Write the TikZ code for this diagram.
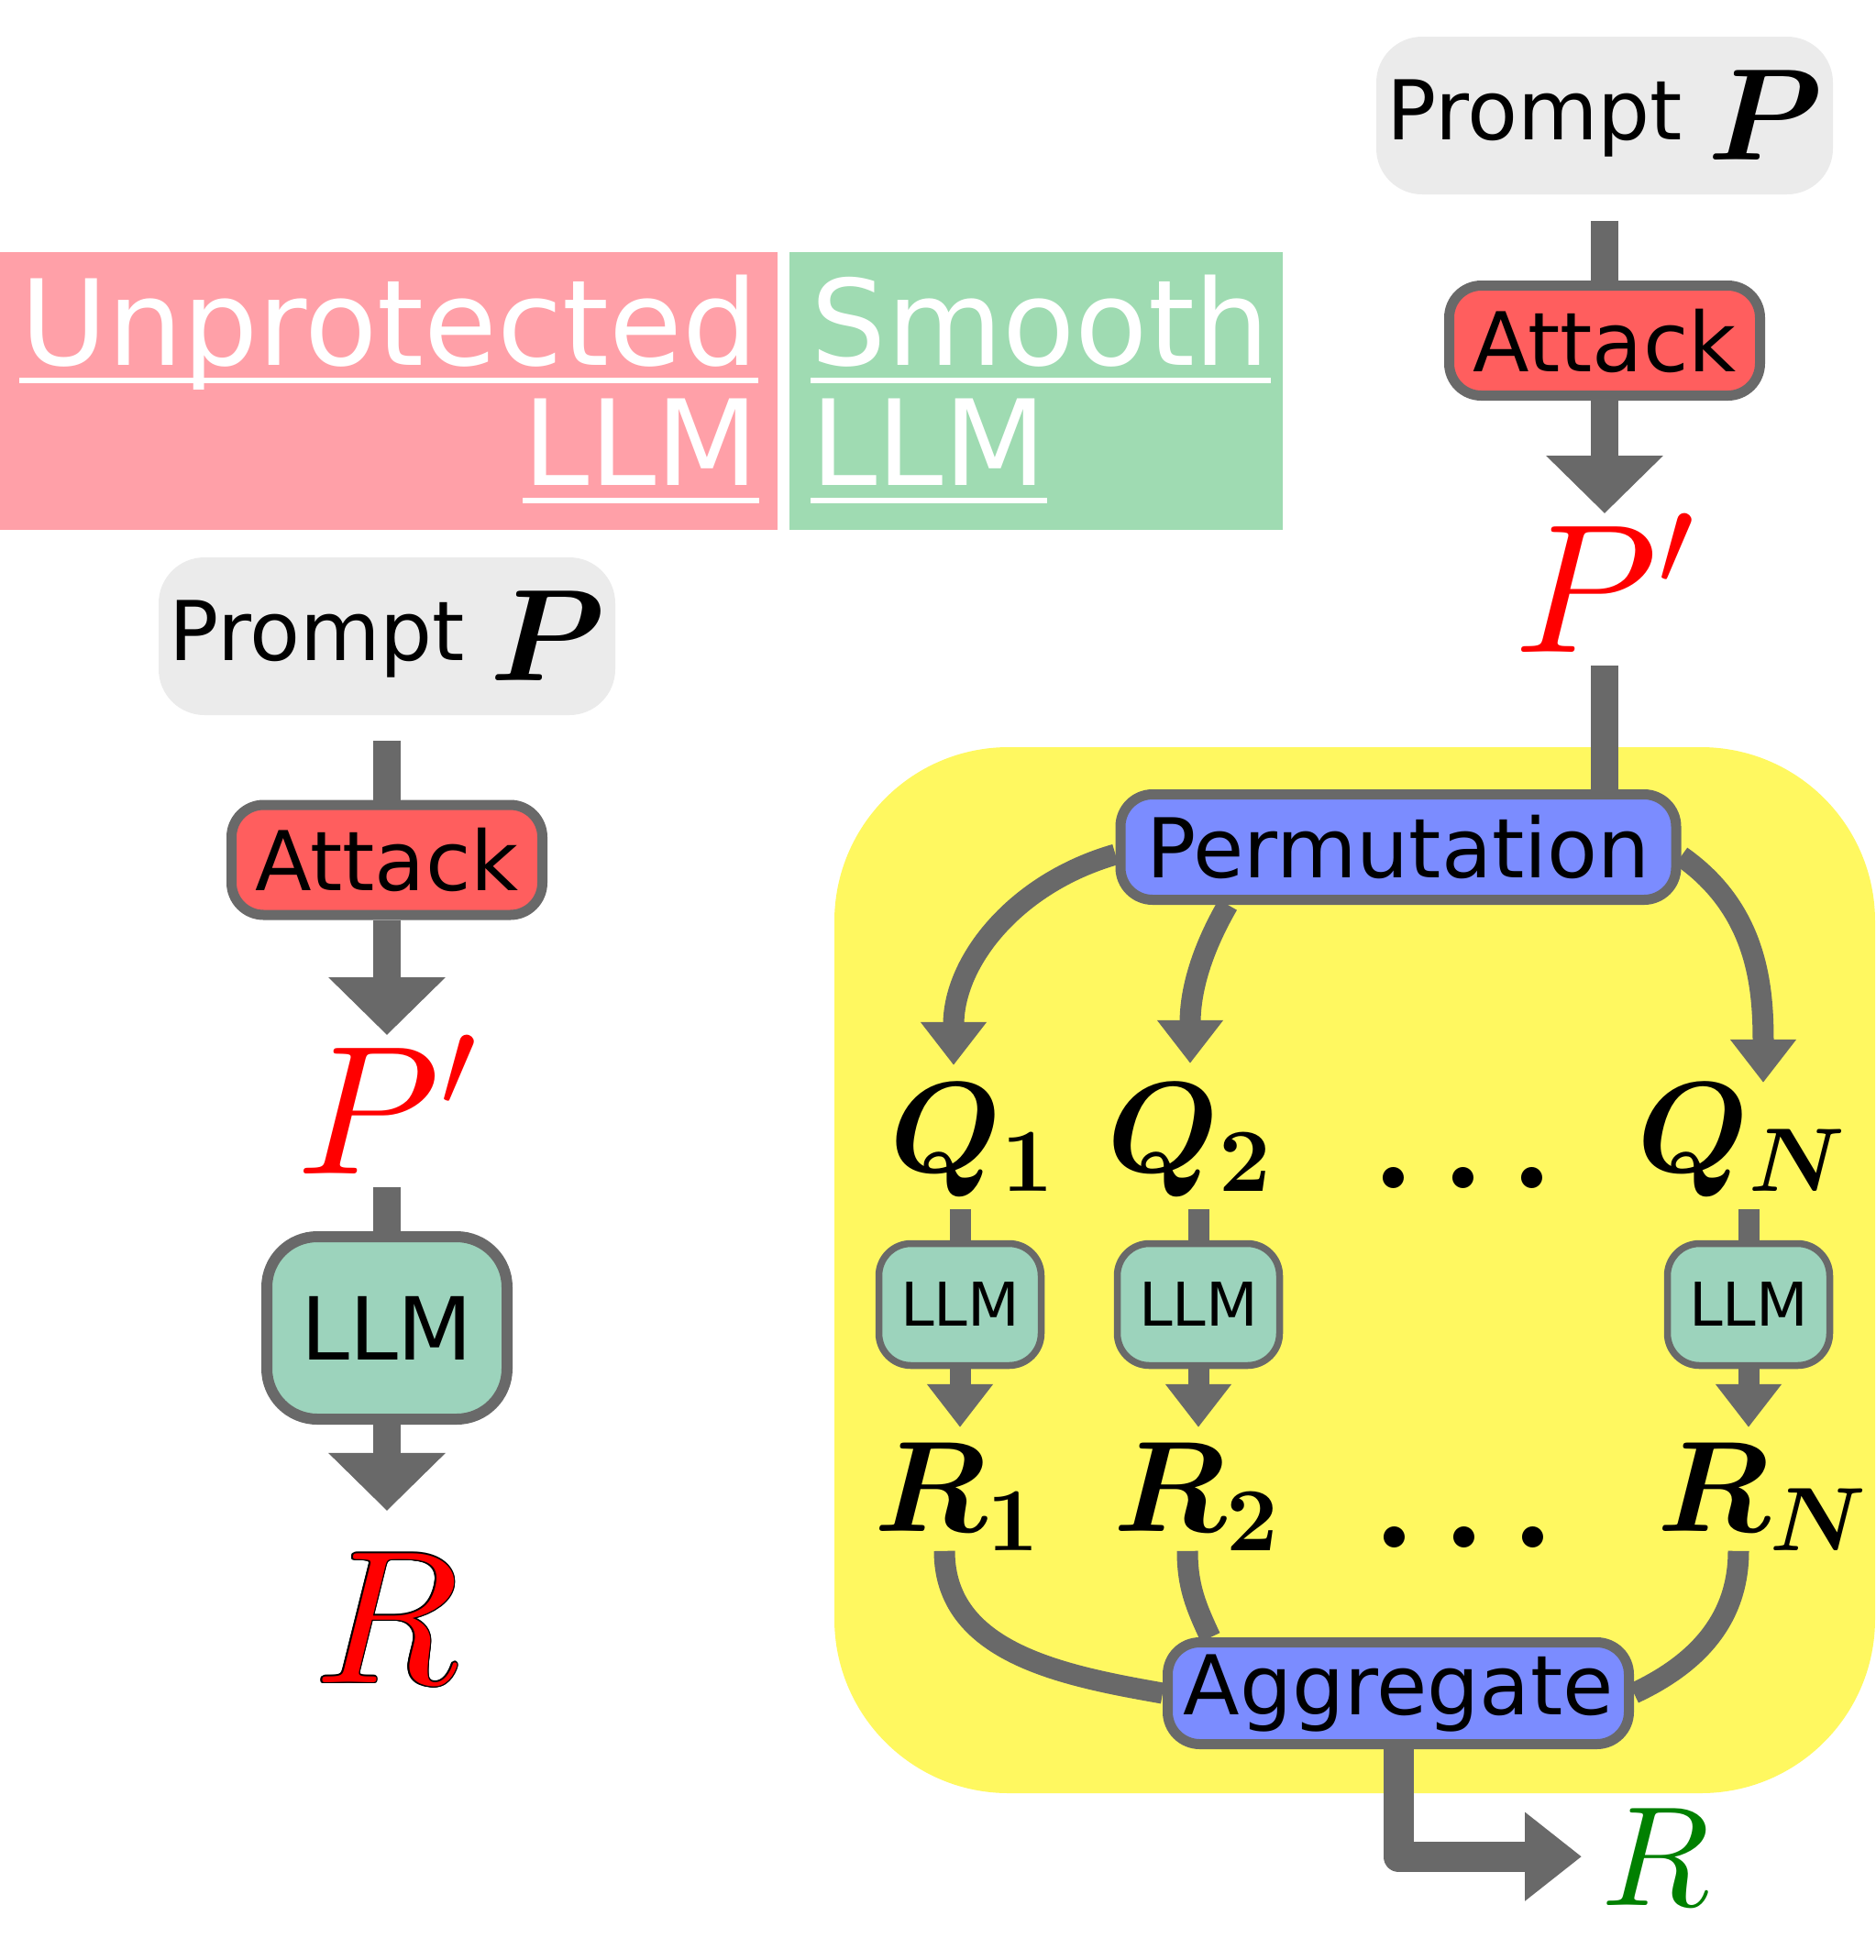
\documentclass[tikz,border=0pt]{standalone}
\usepackage[no-math]{fontspec}
\setmainfont{DejaVu Sans}
\usetikzlibrary{arrows.meta, positioning, calc, backgrounds}
\DeclareFontShape{OML}{cmm}{m}{it}{<->cmmi10}{}
\DeclareFontShape{OML}{cmm}{b}{it}{<->cmmib10}{}
\DeclareFontShape{OT1}{cmr}{m}{n}{<->cmr10}{}
\DeclareFontShape{OT1}{cmr}{bx}{n}{<->cmbx10}{}
\DeclareFontShape{OMS}{cmsy}{m}{n}{<->cmsy10}{}
\DeclareFontShape{OMS}{cmsy}{b}{n}{<->cmbsy10}{}

\definecolor{linegray}{HTML}{696969}
\definecolor{promptgray}{HTML}{EBEBEB}
\definecolor{attackred}{HTML}{FF5E5E}
\definecolor{llmteal}{HTML}{9CD3BC}
\definecolor{permblue}{HTML}{7B8CFF}
\definecolor{smoothyellow}{HTML}{FFF860}
\definecolor{bandred}{HTML}{FFA0A8}
\definecolor{bandgreen}{HTML}{9FDBB2}
\definecolor{outgreen}{HTML}{008000}

\newcommand{\setsz}[1]{\fontsize{#1}{#1}\selectfont}

\begin{document}
\begin{tikzpicture}[on grid,node distance=2.4cm,
prompt/.style={fill=promptgray,rounded corners=0.5cm,minimum width=4.98cm,minimum height=1.72cm,inner sep=0pt,font=\setsz{25.6pt}},
box/.style={draw=linegray,line width=0.11cm,rounded corners=0.35cm,inner sep=0pt,font=\setsz{25.6pt}},
attack/.style={box,fill=attackred,minimum width=3.39cm,minimum height=1.2cm},
llm/.style={box,fill=llmteal,line width=0.12cm,rounded corners=0.55cm,minimum width=2.62cm,minimum height=1.99cm,font=\setsz{27pt}},
llmsmall/.style={box,fill=llmteal,line width=0.075cm,rounded corners=0.35cm,minimum width=1.77cm,minimum height=1.33cm,font=\setsz{18.7pt}},
op/.style={box,fill=permblue,minimum height=1.15cm},
pmath/.style={inner sep=0pt,text=red,font=\setsz{57pt}},
qmath/.style={inner sep=0pt,anchor=base,font={\setsz{40pt}\boldmath}},
dotsmath/.style={inner sep=0pt,anchor=base,font={\setsz{42pt}\boldmath}},
header/.style={inner sep=0pt,text=white,font=\setsz{36.9pt}},
uline/.style={draw=white,line width=0.06cm},
shaft/.style={draw=linegray,line width=0.3cm},
flow/.style={shaft,-{Triangle[width=1.24cm,length=0.63cm]}},
thinshaft/.style={draw=linegray,line width=0.23cm},
thinflow/.style={thinshaft,-{Triangle[width=0.69cm,length=0.47cm]}},
outflow/.style={draw=linegray,line width=0.33cm,line join=round,-{Triangle[width=0.93cm,length=0.62cm]}}]
\useasboundingbox (0,0) rectangle (20.46,-21.38);

% header
\fill[bandred] (0,-2.75) rectangle (8.48,-5.78);
\fill[bandgreen] (8.61,-2.75) rectangle (13.99,-5.78);
\node[header,anchor=base east] (unprot) at (8.27,-3.98) {Unprotected};
\node[header,anchor=base east] (hdllmA) at (8.28,-5.29) {LLM};
\node[header,anchor=base west] (smooth) at (8.84,-3.98) {Smooth};
\node[header,anchor=base west] (hdllmB) at (8.84,-5.29) {LLM};
\foreach \n in {unprot,hdllmA,smooth,hdllmB}
  \draw[uline] ([yshift=-0.17cm]\n.base west) -- ([yshift=-0.17cm]\n.base east);

% smoothing block
\fill[smoothyellow,rounded corners=1.9cm] (9.1,-8.15) rectangle (20.45,-19.56);

% unprotected
\node[prompt] (promL) at (4.22,-6.94) {Prompt\hspace{0.27cm}\raisebox{-0.22cm}{\setsz{40.5pt}\boldmath$P$}};
\node[attack] (attL) [below=2.44cm of promL] {Attack};
\node[pmath] (pL) [below=2.67cm of attL] {$P'$};
\node[llm] (llmL) [below=2.435cm of pL] {LLM};
\node[pmath,font=\setsz{58.6pt}] (rL) [below=3.165cm of llmL] {$R$};
\begin{pgfonlayer}{background}
\foreach \a in {0,30,...,330}
  \node[pmath,font=\setsz{58.6pt},text=black] at ([shift={(\a:0.014)}]rL.center) {$R$};
\end{pgfonlayer}
\draw[shaft] ([yshift=-0.27cm]promL.south) -- (attL.north);
\draw[flow] (attL) -- (pL);
\draw[shaft] ([yshift=-0.14cm]pL.south) -- (llmL.north);
\draw[flow] (llmL.south) -- ([yshift=0.46cm]rL.north);

% smooth
\node[prompt] (promR) at (17.5,-1.26) {Prompt\hspace{0.27cm}\raisebox{-0.22cm}{\setsz{40.5pt}\boldmath$P$}};
\node[attack] (attR) [below=2.455cm of promR] {Attack};
\node[pmath] (pR) [below=2.645cm of attR] {$P'$};
\node[op,minimum width=6.06cm] (perm) at (15.25,-9.24) {Permutation};
\node[qmath] (q1) at (10.61,-12.78) {$Q_1$};
\node[qmath] (q2) at (12.98,-12.78) {$Q_2$};
\node[dotsmath] (qdots) at (15.96,-12.96) {$\ldots$};
\node[qmath] (qN) at (19.0,-12.78) {$Q_N$};
\node[llmsmall] (llm1) at (10.47,-14.23) {LLM};
\node[llmsmall] (llm2) at (13.07,-14.23) {LLM};
\node[llmsmall] (llmN) at (19.07,-14.23) {LLM};
\node[qmath] (r1) at (10.44,-16.70) {$R_1$};
\node[qmath] (r2) at (13.05,-16.70) {$R_2$};
\node[dotsmath] (rdots) at (15.97,-16.88) {$\ldots$};
\node[qmath] (rN) at (19.22,-16.70) {$R_N$};
\node[op,minimum width=5.03cm,minimum height=1.11cm] (agg) at (15.25,-18.47) {Aggregate};
\node[qmath,text=outgreen,font=\setsz{44pt}] (rOut) at (18.06,-20.78) {$R$};

\draw[shaft] ([yshift=-0.28cm]promR.south) -- (attR.north);
\draw[flow] (attR) -- (pR);
\draw[shaft] ([yshift=-0.14cm]pR.south) -- (pR.south |- perm.north);
\draw[thinflow] ([yshift=-0.08cm]perm.west) to[out=196,in=90] ([shift={(-0.21,0.19)}]q1.north);
\draw[thinflow] ([xshift=-1.86cm]perm.south) to[out=240,in=90] ([yshift=0.21cm]q2.north);
\draw[thinflow] ([yshift=-0.1cm]perm.east) to[out=-35,in=90] ([xshift=0.23cm]qN.north);
\draw[thinshaft] ($(llm1.north |- q1.south)+(0,-0.13)$) -- (llm1.north);
\draw[thinshaft] ($(llm2.north |- q2.south)+(0,-0.13)$) -- (llm2.north);
\draw[thinshaft] ($(llmN.north |- qN.south)+(0,-0.13)$) -- (llmN.north);
\draw[thinflow] (llm1.south) -- ($(llm1.south |- r1.north)+(0,0.16)$);
\draw[thinflow] (llm2.south) -- ($(llm2.south |- r2.north)+(0,0.16)$);
\draw[thinflow] (llmN.south) -- ($(llmN.south |- rN.north)+(0,0.16)$);
\draw[thinshaft] ([xshift=-0.14cm]r1.south) to[out=-90,in=170] (agg.west);
\draw[thinshaft] ([xshift=-0.1cm]r2.south) to[out=-90,in=115] ([xshift=-2.05cm]agg.north);
\draw[thinshaft] ([xshift=-0.26cm]rN.south) to[out=-90,in=25] (agg.east);
\draw[outflow] (agg.south) |- ([xshift=-0.21cm]rOut.west);
\end{tikzpicture}
\end{document}
